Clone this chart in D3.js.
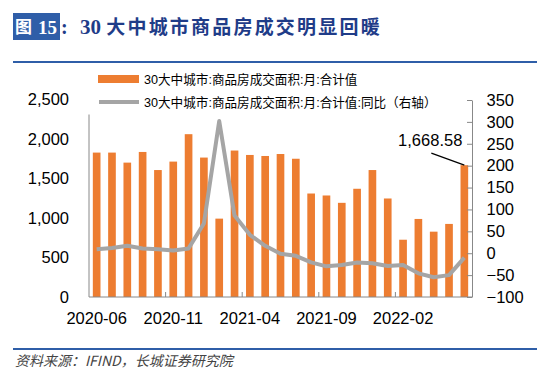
<!DOCTYPE html>
<html><head><meta charset="utf-8">
<script src="https://cdn.jsdelivr.net/npm/d3@7"></script>
<style>
html,body{margin:0;padding:0;background:#fff;}
svg{display:block;}
</style>
</head><body>
<svg id="c" width="550" height="371"></svg>
<script>
const months = ["2020-06","2020-07","2020-08","2020-09","2020-10","2020-11","2020-12",
  "2021-01","2021-02","2021-03","2021-04","2021-05","2021-06","2021-07","2021-08","2021-09",
  "2021-10","2021-11","2021-12","2022-01","2022-02","2022-03","2022-04","2022-05","2022-06"];
const area = [1828,1828,1701,1836,1607,1714,2061,1765,992,1854,1798,1785,1810,1750,1310,1285,
  1192,1370,1607,1247,725,988,827,925,1668.58];
const yoy = [9,12,17,11,9,6,11,68,302,86,42,17,-1,-6,-21,-30,-27,-21,-23,-29,-27,-46,-55,-50,-10];
const xTickLabels = ["2020-06","2020-11","2021-04","2021-09","2022-02"];
const leftTicks = [0,500,1000,1500,2000,2500];
const rightTicks = [-100,-50,0,50,100,150,200,250,300,350];
const seriesNames = ["30大中城市:商品房成交面积:月:合计值","30大中城市:商品房成交面积:月:合计值:同比（右轴）"];
const title = "30 大中城市商品房成交明显回暖";
const source = "资料来源：IFIND，长城证券研究院";

const svg = d3.select("#c");
const FONT = "'Liberation Sans', Arial, 'Noto Sans CJK SC', sans-serif";
const axisColor = "#888";
const orange = "#ED7D31", gray = "#A5A5A5", navy = "#1F3C88";

// title
svg.append("rect").attr("x",13).attr("y",13).attr("width",47).attr("height",27).attr("fill","#2F5EA8");
svg.append("text").attr("x",15).attr("y",33).attr("fill","#fff")
  .attr("font-family","'Noto Sans CJK SC'").attr("font-size",17).attr("font-weight","bold").text("图");
svg.append("text").attr("x",38).attr("y",34).attr("fill","#fff")
  .attr("font-family","'Liberation Serif','Times New Roman',serif").attr("font-size",19).attr("font-weight","bold").text("15");
svg.append("text").attr("x",61).attr("y",34).attr("fill",navy)
  .attr("font-family","'Liberation Serif',serif").attr("font-size",20).attr("font-weight","bold").text(":");
const t = svg.append("text").attr("x",80).attr("y",34).attr("fill",navy)
  .attr("font-size",19).attr("font-weight","bold");
t.append("tspan").attr("font-family","'Liberation Serif',serif").attr("font-size",21).text(title.split(" ")[0] + " ");
t.append("tspan").attr("font-family","'Noto Sans CJK SC'").attr("letter-spacing",2.2).text(title.split(" ")[1]);

svg.append("line").attr("x1",13).attr("x2",537).attr("y1",62).attr("y2",62).attr("stroke","#2F5EA8").attr("stroke-width",2);
svg.append("line").attr("x1",13).attr("x2",537).attr("y1",349).attr("y2",349).attr("stroke","#2F5EA8").attr("stroke-width",2);
svg.append("text").attr("x",15).attr("y",366).attr("fill","#444").attr("font-style","italic")
  .attr("font-family","'Noto Sans CJK SC'").attr("font-size",14).text(source);

// scales
const x = d3.scaleBand().domain(months).range([89,472]).paddingInner(0.5).paddingOuter(0.25);
const yL = d3.scaleLinear().domain([0,2500]).range([297,99.5]);
const yR = d3.scaleLinear().domain([-100,350]).range([297,100]);

// bars
svg.append("g").selectAll("rect").data(area).join("rect")
  .attr("x",(d,i)=>x(months[i])).attr("width",x.bandwidth())
  .attr("y",d=>yL(d)).attr("height",d=>yL(0)-yL(d)).attr("fill",orange);

// baseline & ticks
svg.append("line").attr("x1",x.range()[0]).attr("x2",x.range()[1]).attr("y1",yL(0)).attr("y2",yL(0)).attr("stroke",axisColor);
const bounds = [5,10,15,20].map(k=>x(months[k]) - x.step()*x.paddingInner()/2);
svg.append("g").selectAll("line").data(bounds).join("line")
  .attr("x1",d=>d).attr("x2",d=>d).attr("y1",yL(0)).attr("y2",yL(0)-5).attr("stroke",axisColor);

// x labels
const gx = svg.append("g").attr("transform",`translate(0,${yL(0)})`)
  .call(d3.axisBottom(x).tickValues(xTickLabels).tickSize(0).tickPadding(15));
gx.select(".domain").remove();
gx.selectAll("text").attr("font-family",FONT).attr("font-size",16.5).attr("fill","#000");

// left axis
const gl = svg.append("g").attr("transform",`translate(${x.range()[0]},0)`)
  .call(d3.axisLeft(yL).tickValues(leftTicks).tickSize(0).tickPadding(20).tickFormat(d3.format(",")));
gl.select(".domain").remove();
gl.selectAll("text").attr("font-family",FONT).attr("font-size",16.5).attr("fill","#000");
svg.append("line").attr("x1",x.range()[0]).attr("x2",x.range()[0]).attr("y1",yL(0)).attr("y2",yL(2310)).attr("stroke",axisColor);

// right axis
const gr = svg.append("g").attr("transform",`translate(${x.range()[1]},0)`)
  .call(d3.axisRight(yR).tickValues(rightTicks).tickSizeInner(-5).tickSizeOuter(0).tickPadding(14.5));
gr.select(".domain").attr("stroke",axisColor);
gr.selectAll(".tick line").attr("stroke",axisColor);
gr.selectAll("text").attr("font-family",FONT).attr("font-size",16.5).attr("fill","#000");

// line
svg.append("path").datum(yoy)
  .attr("d",d3.line().x((d,i)=>x(months[i])+x.bandwidth()/2).y(d=>yR(d)))
  .attr("fill","none").attr("stroke",gray).attr("stroke-width",4).attr("stroke-linejoin","round");

// annotation
const li = area.length-1;
const ax = x(months[li])+x.bandwidth()/2, ay = yL(area[li]);
svg.append("line").attr("x1",ax-33).attr("y1",ay-12).attr("x2",ax).attr("y2",ay).attr("stroke","#000").attr("stroke-width",1.3);
svg.append("text").attr("x",ax-2).attr("y",ay-19).attr("text-anchor","end")
  .attr("font-family",FONT).attr("font-size",16.5).attr("fill","#000").text(d3.format(",.2f")(area[li]));

// legend
const lg = svg.append("g");
lg.append("rect").attr("x",98).attr("y",75).attr("width",41).attr("height",8).attr("fill",orange);
lg.append("line").attr("x1",99).attr("x2",139).attr("y1",102).attr("y2",102).attr("stroke",gray).attr("stroke-width",4);
lg.selectAll("text").data(seriesNames).join("text")
  .attr("x",144).attr("y",(d,i)=>83.5+i*23).attr("font-family",FONT).attr("font-size",12.6).attr("fill","#000").text(d=>d);
</script>
</body></html>
